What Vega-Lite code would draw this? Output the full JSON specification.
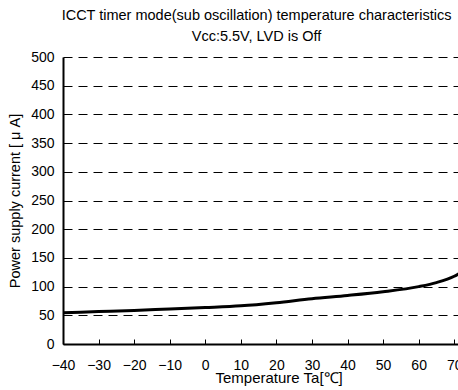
{
  "$schema": "https://vega.github.io/schema/vega-lite/v6.json",
  "autosize": "none",
  "width": 409,
  "height": 287,
  "padding": {"left": 63, "top": 57, "right": 0, "bottom": 46},
  "background": "white",
  "title": {
    "text": ["ICCT timer mode(sub oscillation) temperature characteristics", "Vcc:5.5V, LVD is Off"],
    "font": "Liberation Sans",
    "fontSize": 14.5,
    "fontWeight": "normal",
    "color": "black",
    "anchor": "middle",
    "offset": 6,
    "dx": -11,
    "lineHeight": 21
  },
  "config": {"view": {"stroke": null}},
  "data": {"values": [
    {"t": -40, "i": 54.5},
    {"t": -30, "i": 56.5},
    {"t": -20, "i": 58.5},
    {"t": -10, "i": 61},
    {"t": 0, "i": 63.5},
    {"t": 10, "i": 66.5},
    {"t": 20, "i": 72},
    {"t": 30, "i": 79},
    {"t": 40, "i": 84.5},
    {"t": 50, "i": 91},
    {"t": 60, "i": 100},
    {"t": 65, "i": 107},
    {"t": 70, "i": 118},
    {"t": 72, "i": 125}
  ]},
  "mark": {"type": "line", "color": "black", "strokeWidth": 3, "interpolate": "monotone", "clip": true},
  "encoding": {
    "x": {
      "field": "t", "type": "quantitative",
      "scale": {"domain": [-40, 75], "nice": false, "zero": false},
      "axis": {
        "values": [-40, -30, -20, -10, 0, 10, 20, 30, 40, 50, 60, 70],
        "title": "Temperature Ta[℃]",
        "titleFont": "Liberation Sans", "titleFontSize": 15, "titleFontWeight": "normal", "titleColor": "black",
        "titlePadding": -2, "titleAnchor": "start", "titleX": 152,
        "labelFont": "Liberation Sans", "labelFontSize": 14, "labelColor": "black",
        "labelPadding": 19, "labelFlush": false, "labelOverlap": false,
        "grid": false,
        "domainColor": "black", "domainWidth": 2,
        "tickColor": "black", "tickSize": -5, "tickWidth": 1
      }
    },
    "y": {
      "field": "i", "type": "quantitative",
      "scale": {"domain": [0, 500], "nice": false},
      "axis": {
        "values": [0, 50, 100, 150, 200, 250, 300, 350, 400, 450, 500],
        "title": "Power supply current [ μ A]",
        "titleFont": "Liberation Sans", "titleFontSize": 14.5, "titleFontWeight": "normal", "titleColor": "black",
        "titlePadding": 8,
        "labelFont": "Liberation Sans", "labelFontSize": 14, "labelColor": "black",
        "labelPadding": 9,
        "ticks": false,
        "grid": true, "gridColor": "black", "gridDash": [9, 6], "gridWidth": 1,
        "domainColor": "black", "domainWidth": 2
      }
    }
  }
}
